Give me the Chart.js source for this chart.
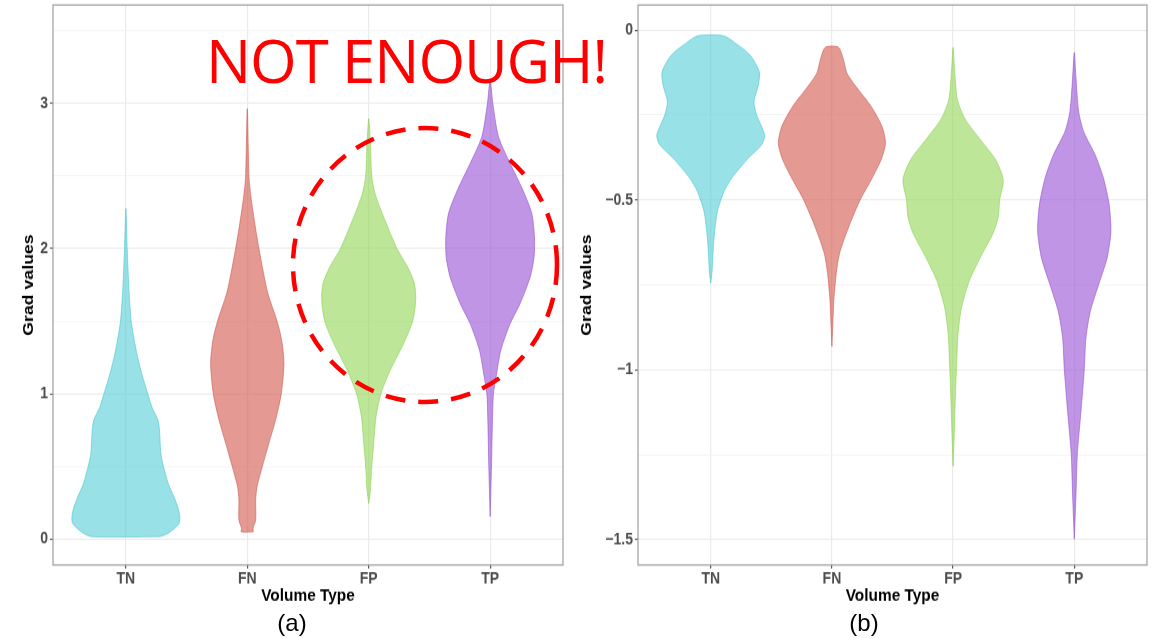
<!DOCTYPE html>
<html>
<head>
<meta charset="utf-8">
<script src="https://cdn.jsdelivr.net/npm/chart.js@4.4.1/dist/chart.umd.min.js"></script>
<style>
  body { margin: 0; background: #fff; }
  #wrap { position: relative; width: 1152px; height: 638px; overflow: hidden; }
  /* the source figure is a little taller than wide, so the panels are stretched vertically */
  .panel { position: absolute; top: 0; transform: scaleY(1.150943); transform-origin: 0 0; }
  .cap { position: absolute; top: 611px; width: 60px; text-align: center;
         font: 24px/24px "Liberation Sans", Arial, sans-serif; color: #000; }
  #shout { position: absolute; left: 206px; top: 30px; white-space: nowrap; letter-spacing: -1.1px;
           font: 60px/60px "Open Sans", sans-serif; color: #ff0000; }
  #ring { position: absolute; left: 0; top: 0; pointer-events: none; }
</style>
</head>
<body>
<div id="wrap">
  <div class="panel" style="left:0px"><canvas id="chartA" width="570" height="530"></canvas></div>
  <div class="panel" style="left:570px"><canvas id="chartB" width="582" height="530"></canvas></div>
  <div class="cap" style="left:262px">(a)</div>
  <div class="cap" style="left:834px">(b)</div>
  <svg id="ring" width="1152" height="638">
    <ellipse cx="425" cy="265" rx="132" ry="137" fill="none" stroke="#ff0000" stroke-width="4.5" stroke-dasharray="20 13"/>
  </svg>
  <div id="shout">NOT ENOUGH!</div>
</div>
<script>
const categories = ['TN', 'FN', 'FP', 'TP'];

// panel (a): y levels (bottom -> top) and violin half widths in category units
const aTNValues = [0.016, 0.04, 0.11, 0.18, 0.27, 0.38, 0.50, 0.59, 0.75, 0.82, 0.91, 1.0, 1.12, 1.255, 1.37, 1.5, 1.71, 2.0, 2.276];
const aTNWidths = [0.28, 0.35, 0.44, 0.44, 0.406, 0.35, 0.31, 0.288, 0.277, 0.264, 0.214, 0.181, 0.137, 0.096, 0.069, 0.044, 0.026, 0.011, 0];
const aFNValues = [0.05, 0.074, 0.13, 0.27, 0.36, 0.50, 0.66, 0.82, 1.0, 1.21, 1.37, 1.50, 1.69, 1.83, 2.0, 2.15, 2.356, 2.493, 2.964];
const aFNWidths = [0.05, 0.047, 0.069, 0.069, 0.08, 0.124, 0.178, 0.233, 0.28, 0.302, 0.283, 0.245, 0.17, 0.134, 0.096, 0.066, 0.03, 0.014, 0];
const aFPValues = [0.245, 0.337, 0.5, 0.659, 0.842, 1.0, 1.163, 1.347, 1.5, 1.645, 1.76, 1.874, 2.0, 2.195, 2.379, 2.5, 2.723, 2.895];
const aFPWidths = [0, 0.014, 0.025, 0.041, 0.06, 0.1, 0.178, 0.288, 0.362, 0.387, 0.376, 0.32, 0.233, 0.134, 0.052, 0.025, 0.014, 0];
const aTPValues = [0.154, 0.5, 0.819, 1.0, 1.117, 1.30, 1.484, 1.622, 1.805, 1.943, 2.081, 2.242, 2.402, 2.586, 2.769, 3.0, 3.16];
const aTPWidths = [0, 0.011, 0.019, 0.027, 0.049, 0.088, 0.165, 0.247, 0.33, 0.362, 0.365, 0.343, 0.27, 0.165, 0.069, 0.022, 0];

// panel (b)
const bTNValues = [-0.745, -0.711, -0.613, -0.534, -0.475, -0.436, -0.377, -0.338, -0.309, -0.25, -0.211, -0.162, -0.1225, -0.0735, -0.0343, -0.0167];
const bTNWidths = [0, 0.011, 0.027, 0.055, 0.11, 0.173, 0.31, 0.42, 0.445, 0.379, 0.357, 0.393, 0.401, 0.324, 0.187, 0.104];
const bFNValues = [-0.931, -0.863, -0.794, -0.716, -0.657, -0.578, -0.5, -0.441, -0.382, -0.333, -0.284, -0.225, -0.167, -0.127, -0.088, -0.051];
const bFNWidths = [0, 0.008, 0.016, 0.036, 0.063, 0.14, 0.233, 0.324, 0.406, 0.442, 0.414, 0.324, 0.2, 0.124, 0.096, 0.055];
const bFPValues = [-1.284, -1.206, -1.108, -1.0, -0.892, -0.814, -0.735, -0.667, -0.598, -0.549, -0.5, -0.441, -0.382, -0.324, -0.265, -0.206, -0.127, -0.051];
const bFPWidths = [0, 0.008, 0.016, 0.027, 0.041, 0.071, 0.137, 0.228, 0.33, 0.373, 0.384, 0.414, 0.351, 0.228, 0.104, 0.036, 0.014, 0];
const bTPValues = [-1.498, -1.368, -1.248, -1.123, -1.0, -0.907, -0.828, -0.75, -0.672, -0.593, -0.515, -0.436, -0.368, -0.299, -0.24, -0.142, -0.066];
const bTPWidths = [0, 0.014, 0.025, 0.055, 0.082, 0.096, 0.132, 0.2, 0.27, 0.302, 0.288, 0.241, 0.173, 0.077, 0.036, 0.014, 0];

// y axis ticks
const aYTicks = [0, 1, 2, 3];
const aYTickLabels = ['0', '1', '2', '3'];
const aYMinor = [0.5, 1.5, 2.5, 3.5];
const bYTicks = [0, -0.5, -1, -1.5];
const bYTickLabels = ['0', '\u22120.5', '\u22121', '\u22121.5'];
const bYMinor = [-0.25, -0.75, -1.25];

const fills = ['rgba(83,205,213,0.6)', 'rgba(210,87,75,0.6)', 'rgba(145,213,83,0.6)', 'rgba(152,78,212,0.6)'];
const strokes = ['rgba(60,195,205,0.55)', 'rgba(200,80,70,0.55)', 'rgba(130,205,70,0.55)', 'rgba(140,70,205,0.55)'];

const SY = 610 / 530; // vertical stretch of the panels

function violinPoints(center, values, widths) {
    const right = values.map((v, i) => ({x: center + widths[i], y: v}));
    const left = [];
    for (let i = values.length - 1; i >= 0; i--) {
        if (widths[i] > 0) left.push({x: center - widths[i], y: values[i]});
    }
    return right.concat(left, [right[0]]);
}

function makeDatasets(profiles) {
    return profiles.map((p, i) => ({
        label: categories[i],
        data: violinPoints(i + 1, p[0], p[1]),
        showLine: true,
        fill: 'shape',
        tension: 0.25,
        pointRadius: 0,
        borderWidth: 1,
        borderColor: strokes[i],
        backgroundColor: fills[i]
    }));
}

const panelBorder = {
    id: 'panelBorder',
    afterDatasetsDraw(chart) {
        const {ctx, chartArea: a} = chart;
        ctx.save();
        ctx.strokeStyle = '#9e9e9e';
        ctx.lineWidth = 1.2;
        ctx.strokeRect(a.left, a.top, a.right - a.left, a.bottom - a.top);
        ctx.restore();
    }
};

function makeChart(id, datasets, cfg) {
    const allTicks = cfg.ticks.concat(cfg.minor).sort((p, q) => p - q);
    const isMajor = (v) => cfg.ticks.indexOf(v) >= 0;
    return new Chart(document.getElementById(id), {
        type: 'scatter',
        data: { datasets: datasets },
        options: {
            responsive: false,
            animation: false,
            layout: { padding: { top: 5 / SY, right: cfg.right, left: 0, bottom: 0 } },
            plugins: { legend: { display: false }, tooltip: { enabled: false } },
            scales: {
                x: {
                    type: 'linear', min: 0.4, max: 4.6,
                    afterBuildTicks: (s) => { s.ticks = categories.map((c, i) => ({value: i + 1})); },
                    afterFit: (s) => { s.height = 530 - 565 / SY; s.paddingLeft = 0; s.paddingRight = 0; },
                    border: { display: false },
                    grid: { color: '#ebebeb', lineWidth: 1.2, tickColor: '#555', tickLength: 3 },
                    ticks: {
                        autoSkip: false, maxRotation: 0, padding: 1, color: '#4d4d4d',
                        font: { family: 'Liberation Sans', size: 14, weight: 'bold' },
                        callback: (v) => categories[v - 1]
                    },
                    title: {
                        display: true, text: 'Volume Type', color: '#000',
                        font: { family: 'Liberation Sans', size: 15.4, weight: 'bold' },
                        padding: { top: 0, bottom: 3 }
                    }
                },
                y: {
                    type: 'linear', min: cfg.min, max: cfg.max,
                    afterBuildTicks: (s) => { s.ticks = allTicks.map(v => ({value: v})); },
                    afterFit: (s) => { s.width = cfg.yWidth; s.paddingTop = 0; s.paddingBottom = 0; },
                    border: { display: false },
                    grid: {
                        color: (c) => (c.tick && isMajor(c.tick.value)) ? '#ebebeb' : '#f3f3f3',
                        lineWidth: (c) => (c.tick && isMajor(c.tick.value)) ? 1.1 : 0.8,
                        tickColor: (c) => (c.tick && isMajor(c.tick.value)) ? '#555' : 'rgba(0,0,0,0)',
                        tickLength: 3
                    },
                    ticks: {
                        autoSkip: false, padding: 2, color: '#4d4d4d',
                        font: { family: 'Liberation Sans', size: 14, weight: 'bold' },
                        callback: (v) => { const k = cfg.ticks.indexOf(v); return k >= 0 ? cfg.labels[k] : ''; }
                    },
                    title: {
                        display: true, text: 'Grad values', color: '#000',
                        font: { family: 'Liberation Sans', size: 15.4, weight: 'bold' },
                        padding: { top: cfg.titlePad, bottom: 0 }
                    }
                }
            }
        },
        plugins: [panelBorder]
    });
}

makeChart('chartA', makeDatasets([[aTNValues, aTNWidths], [aFNValues, aFNWidths], [aFPValues, aFPWidths], [aTPValues, aTPWidths]]), {
    min: -0.179, max: 3.677, ticks: aYTicks, labels: aYTickLabels, minor: aYMinor,
    right: 7, yWidth: 53, titlePad: 20
});

makeChart('chartB', makeDatasets([[bTNValues, bTNWidths], [bFNValues, bFNWidths], [bFPValues, bFPWidths], [bTPValues, bTPWidths]]), {
    min: -1.5745, max: 0.0736, ticks: bYTicks, labels: bYTickLabels, minor: bYMinor,
    right: 5, yWidth: 68, titlePad: 8
});
</script>
</body>
</html>
